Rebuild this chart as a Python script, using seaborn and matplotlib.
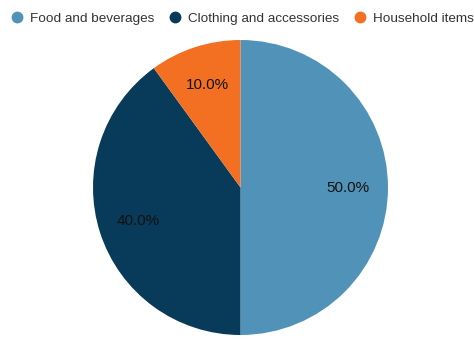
import matplotlib
matplotlib.use("Agg")
import matplotlib.pyplot as plt
from matplotlib.lines import Line2D
import seaborn as sns

categories = ["Food and beverages", "Clothing and accessories", "Household items"]
shares = [50.0, 40.0, 10.0]
colors = ["#5193B8", "#083A5A", "#F37022"]

sns.set_style("white")
plt.rcParams["font.family"] = ["Liberation Sans", "DejaVu Sans"]

fig = plt.figure(figsize=(4.74, 3.40), dpi=100)
ax = fig.add_axes([0.0, 0.0, 1.0, 1.0])

ax.pie(
    shares,
    colors=colors,
    startangle=90,
    counterclock=False,
    autopct="%.1f%%",
    pctdistance=0.73,
    radius=1.0,
    center=(0, 0),
    wedgeprops=dict(linewidth=0),
    textprops=dict(fontsize=11, color="#111111"),
)

# Pie placed within the figure: center and radius in pixel space
W, H = 474, 340
cx, cy, r = 240.5, 187.5, 147.5
ax.set_xlim(-cx / r, (W - cx) / r)
ax.set_ylim(-(H - cy) / r, cy / r)
ax.set_aspect("equal")
ax.axis("off")

handles = [
    Line2D([0], [0], marker="o", linestyle="", markersize=7.5,
           markerfacecolor=c, markeredgecolor=c)
    for c in colors
]
fig.legend(
    handles, categories,
    loc="center left", bbox_to_anchor=(10 / W, 1 - 19 / H),
    ncol=3, frameon=False, fontsize=9.7,
    handletextpad=0.47, columnspacing=1.05, handlelength=1.0,
    borderaxespad=0.0, borderpad=0.0,
    labelcolor="#333333",
)

fig.savefig("out.png", dpi=100)
